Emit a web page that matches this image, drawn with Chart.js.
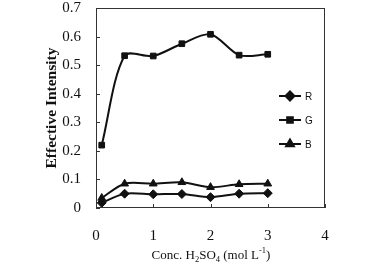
<!DOCTYPE html>
<html>
<head>
<meta charset="utf-8">
<script src="https://cdn.jsdelivr.net/npm/chart.js@4"></script>
<style>
  html, body { margin: 0; padding: 0; background: #fff; }
  #wrap { width: 378px; height: 268px; }
</style>
</head>
<body>
<div id="wrap"><canvas id="c" width="378" height="268"></canvas></div>
<script>
// concentration of H2SO4 (mol/L)
const conc = [0.1, 0.5, 1, 1.5, 2, 2.5, 3];
const rValues = [0.018, 0.050, 0.048, 0.049, 0.038, 0.050, 0.052];
const gValues = [0.220, 0.533, 0.532, 0.575, 0.608, 0.535, 0.538];
const bValues = [0.035, 0.085, 0.085, 0.090, 0.073, 0.083, 0.085];
const seriesNames = ['R', 'G', 'B'];
const xTicks = [0, 1, 2, 3, 4];
const yTicks = [0, 0.1, 0.2, 0.3, 0.4, 0.5, 0.6, 0.7];

const ink = '#111';
const serif = '"Liberation Serif", "Times New Roman", serif';

function toPoints(vals) {
    return conc.map((x, i) => ({ x: x, y: vals[i] }));
}

function makeSet(name, vals, style) {
    return {
        label: name,
        data: toPoints(vals),
        borderColor: ink,
        backgroundColor: ink,
        borderWidth: 2,
        tension: 0.3,
        pointStyle: style,
        pointRadius: style === 'rect' ? 4 : 4.5,
        pointBorderWidth: 1
    };
}

// frame, inner ticks, titles and legend
const extras = {
    id: 'extras',
    afterDraw(chart) {
        const ctx = chart.ctx;
        const a = chart.chartArea;
        const xs = chart.scales.x, ys = chart.scales.y;
        ctx.save();
        ctx.strokeStyle = '#333';
        ctx.lineWidth = 1;
        ctx.strokeRect(a.left + 0.5, a.top + 0.5, a.right - a.left - 1, a.bottom - a.top - 1);

        // small tick marks pointing inward
        ctx.beginPath();
        xTicks.forEach(v => {
            const px = Math.round(xs.getPixelForValue(v)) + 0.5;
            ctx.moveTo(px, a.bottom);
            ctx.lineTo(px, a.bottom - 4);
        });
        yTicks.forEach(v => {
            const py = Math.round(ys.getPixelForValue(v)) + 0.5;
            ctx.moveTo(a.left, py);
            ctx.lineTo(a.left + 4, py);
        });
        ctx.stroke();

        // y title
        ctx.fillStyle = ink;
        ctx.font = 'bold 15.5px ' + serif;
        ctx.textAlign = 'center';
        ctx.textBaseline = 'middle';
        ctx.save();
        ctx.translate(52, 108);
        ctx.rotate(-Math.PI / 2);
        ctx.fillText('Effective Intensity', 0, 0);
        ctx.restore();

        // x title with sub/superscripts
        const parts = [
            ['Conc. H', 0], ['2', 1], ['SO', 0], ['4', 1], [' (mol L', 0], ['-1', -1], [')', 0]
        ];
        const big = '13px ' + serif, small = '8.5px ' + serif;
        let total = 0;
        parts.forEach(p => { ctx.font = p[1] ? small : big; total += ctx.measureText(p[0]).width; });
        let x = 211 - total / 2;
        const base = 259;
        ctx.textAlign = 'left';
        ctx.textBaseline = 'alphabetic';
        parts.forEach(p => {
            ctx.font = p[1] ? small : big;
            const dy = p[1] === 1 ? 3 : (p[1] === -1 ? -6 : 0);
            ctx.fillText(p[0], x, base + dy);
            x += ctx.measureText(p[0]).width;
        });

        // legend
        const rowsY = [96, 120, 144];
        chart.data.datasets.forEach((ds, i) => {
            const y = rowsY[i];
            ctx.strokeStyle = ink;
            ctx.lineWidth = 2;
            ctx.beginPath();
            ctx.moveTo(279, y);
            ctx.lineTo(301, y);
            ctx.stroke();
            ctx.fillStyle = ink;
            Chart.helpers.drawPoint(ctx, { pointStyle: ds.pointStyle, radius: ds.pointRadius, borderWidth: 1 }, 290, y);
            ctx.font = '10px "Liberation Sans", Arial, sans-serif';
            ctx.textBaseline = 'middle';
            ctx.fillText(ds.label, 305, y + 1);
        });
        ctx.restore();
    }
};

new Chart(document.getElementById('c'), {
    type: 'line',
    data: {
        datasets: [
            makeSet(seriesNames[0], rValues, 'rectRot'),
            makeSet(seriesNames[1], gValues, 'rect'),
            makeSet(seriesNames[2], bValues, 'triangle')
        ]
    },
    options: {
        responsive: false,
        animation: false,
        layout: { padding: { top: 8, right: 53, left: 0, bottom: 0 } },
        plugins: { legend: { display: false }, tooltip: { enabled: false } },
        scales: {
            x: {
                type: 'linear',
                min: 0, max: 4,
                afterBuildTicks: s => { s.ticks = xTicks.map(v => ({ value: v })); },
                afterFit: s => { s.height = 60; s.paddingLeft = 0; s.paddingRight = 0; },
                grid: { display: false },
                border: { display: false },
                ticks: { color: ink, font: { family: serif, size: 15 }, padding: 11 }
            },
            y: {
                min: 0, max: 0.7,
                afterBuildTicks: s => { s.ticks = yTicks.map(v => ({ value: v })); },
                afterFit: s => { s.width = 96; s.paddingTop = 0; s.paddingBottom = 0; },
                grid: { display: false },
                border: { display: false },
                ticks: { color: ink, font: { family: serif, size: 15 }, padding: 7,
                         callback: v => v === 0 ? '0' : v.toFixed(1) }
            }
        }
    },
    plugins: [extras]
});
</script>
</body>
</html>
